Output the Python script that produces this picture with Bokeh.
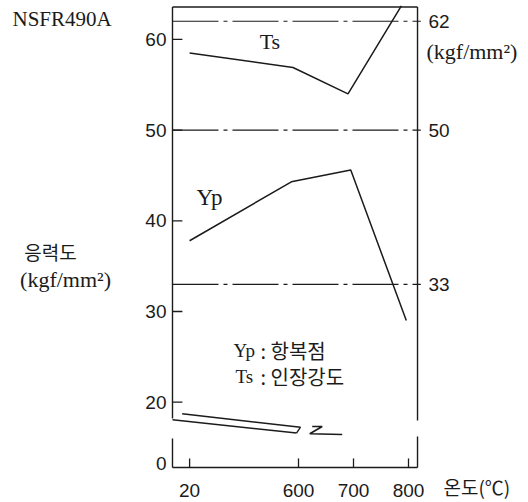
from bokeh.plotting import figure
from bokeh.models import Range1d
from bokeh.embed import file_html
from bokeh.resources import INLINE
from bokeh.core.properties import value

# ---------------- data ----------------
ts_temp = [20, 590, 690, 787]          # tensile strength Ts, temperature (°C)
ts_val = [58.5, 56.9, 54.0, 63.7]      # kgf/mm2
yp_temp = [20, 587, 695, 796]          # yield point Yp
yp_val = [37.8, 44.3, 45.6, 29.0]
ref_levels = [62, 50, 33]              # dash-dot guide levels
ref_labels = ["62", "50", "33"]
y_ticks = [20, 30, 40, 50, 60]
y_tick_labels = ["20", "30", "40", "50", "60"]
x_tick_temps = [20, 600, 700, 800]
x_tick_labels = ["20", "600", "700", "800"]

# ---------------- geometry / style ----------------
INK = "#1b1b1b"
BREAK_POS = 402.0          # where the 20 °C point sits on the broken x axis
Y_ZERO = 13.29             # where the "0" label sits on the broken y axis
X0, X1 = 58.18, 1018.18    # whole canvas in data units
Y0, Y1 = 8.94, 64.29
BOX_L, BOX_R = 370.9, 816.4
BOX_T, BOX_B = 63.57, 12.80
TICK_X = 18.0              # 10 px in x data units
TICK_Y = 1.0               # 9 px in y data units
LAB_L = 360.0              # right edge of left tick labels
LAB_R = 836.4              # left edge of right labels
LAB_B = 10.26              # centre line of bottom labels


def xpos(t):
    return t if t >= 500 else BREAK_POS + (t - 20)


p = figure(width=528, height=502,
           x_range=Range1d(X0, X1), y_range=Range1d(Y0, Y1),
           output_backend="svg", toolbar_location=None,
           x_axis_location=None, y_axis_location=None,
           min_border=0, min_border_left=0, min_border_right=0,
           min_border_top=0, min_border_bottom=0,
           background_fill_color="white", border_fill_color="white",
           outline_line_color=None)
p.grid.visible = False

# frame box with breaks in left and right sides
p.segment(x0=[BOX_L, BOX_L, BOX_L, BOX_R, BOX_R, BOX_L],
          y0=[BOX_T, BOX_T, 15.99, BOX_T, 16.22, BOX_B],
          x1=[BOX_R, BOX_L, BOX_L, BOX_R, BOX_R, BOX_R],
          y1=[BOX_T, 18.20, BOX_B, 17.98, BOX_B, BOX_B],
          line_color=INK, line_width=1.4)

# inward ticks
p.segment(x0=[BOX_L] * len(y_ticks), y0=y_ticks,
          x1=[BOX_L + TICK_X] * len(y_ticks), y1=y_ticks,
          line_color=INK, line_width=1.3)
xt = [xpos(t) for t in x_tick_temps]
p.segment(x0=xt, y0=[BOX_B] * len(xt), x1=xt, y1=[BOX_B + TICK_Y] * len(xt),
          line_color=INK, line_width=1.3)

# guide levels
p.segment(x0=[BOX_L] * len(ref_levels), y0=ref_levels,
          x1=[BOX_R + 6] * len(ref_levels), y1=ref_levels,
          line_color=INK, line_width=1.2, line_dash="46 5 4 5")

# data curves
p.line([xpos(t) for t in ts_temp], ts_val, line_color=INK, line_width=1.5)
p.line([xpos(t) for t in yp_temp], yp_val, line_color=INK, line_width=1.5)

# axis-break symbol
p.line([388.5, 603.6, 596.4], [18.72, 17.24, 16.60], line_color=INK, line_width=1.4)
p.line([370.9, 596.4], [18.06, 16.60], line_color=INK, line_width=1.4)
p.line([624.9, 643.1, 620.5, 679.5], [17.32, 17.32, 16.52, 16.44],
       line_color=INK, line_width=1.6)

NUM = value("Liberation Sans")
SERIF = "Liberation Serif"
KR = "Noto Sans CJK KR"

# tick labels
p.text(x=[LAB_L] * (len(y_ticks) + 1), y=[Y_ZERO] + y_ticks, text=["0"] + y_tick_labels,
       text_font=NUM, text_font_size=value("19px"), text_color=INK,
       text_align="right", text_baseline="middle")
p.text(x=[LAB_R] * len(ref_levels), y=ref_levels, text=ref_labels,
       text_font=NUM, text_font_size=value("19px"), text_color=INK,
       text_align="left", text_baseline="middle")
p.text(x=xt, y=[LAB_B] * len(xt), text=x_tick_labels,
       text_font=NUM, text_font_size=value("19px"), text_color=INK,
       text_align="center", text_baseline="middle")


def lab(x, y, text, font, size, align="left"):
    p.text(x=[x], y=[y], text=[text], text_font=value(font), text_font_size=value(size),
           text_color=INK, text_align=align, text_baseline="middle")


lab(80.0, 62.30, "NSFR490A", SERIF, "21px")
lab(149.1, 36.62, "응력도", KR, "19px", "center")
lab(176.4, 33.53, "(kgf/mm²)", SERIF, "22px", "center")
lab(832.7, 58.67, "(kgf/mm²)", SERIF, "22px")
lab(863.6, 10.70, "온도(℃)", KR, "19px")
lab(548.0, 59.77, "Ts", SERIF, "22px", "center")
lab(438.0, 42.62, "Yp", SERIF, "23px", "center")
lab(481.8, 25.70, "Yp", SERIF, "19px")
lab(530.9, 25.70, ": 항복점", KR, "20px")
lab(485.5, 22.83, "Ts", SERIF, "19px")
lab(530.9, 22.83, ": 인장강도", KR, "20px")

open("out.html", "w").write(file_html(p, INLINE))
